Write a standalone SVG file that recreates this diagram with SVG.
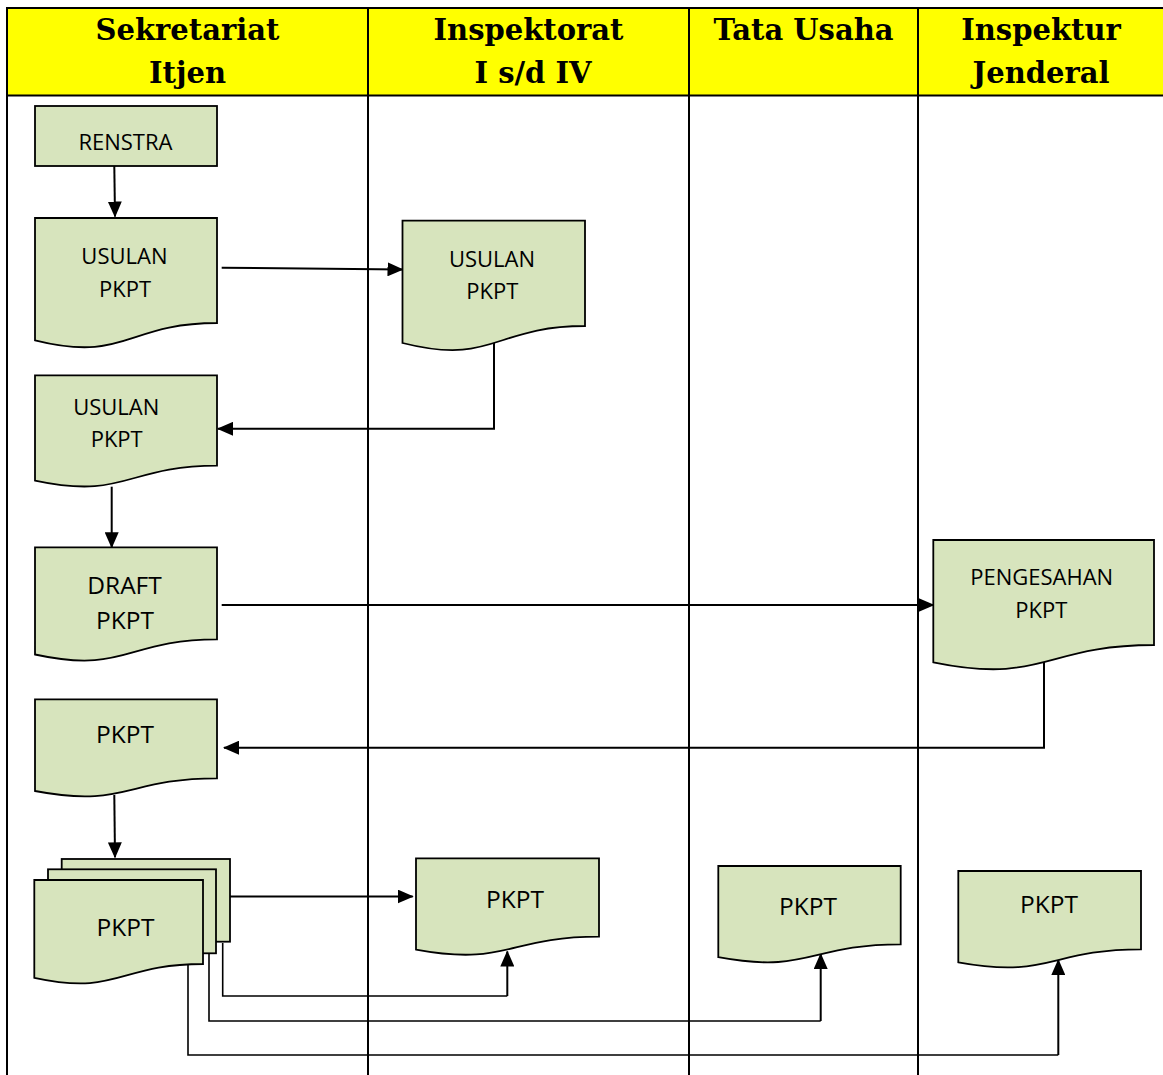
<svg xmlns="http://www.w3.org/2000/svg" width="1163" height="1075" viewBox="0 0 1163 1075">
<style>
.hdr{font-family:"DejaVu Serif","Liberation Serif",serif;font-weight:bold;font-size:29px;fill:#000;text-anchor:middle}
.doc{fill:#d7e4bd;stroke:#000;stroke-width:1.8}
.t{font-family:"Open Sans","Noto Sans",sans-serif;font-size:22px;fill:#000;text-anchor:middle}
.tb{font-family:"Open Sans","Noto Sans",sans-serif;font-size:24.5px;fill:#000;text-anchor:middle}
.grid{stroke:#000;stroke-width:2;fill:none}
.c{stroke:#000;stroke-width:2;fill:none}
.cs{stroke:#000;stroke-width:1.6;fill:none}
</style>
<defs>
<marker id="ah" markerUnits="userSpaceOnUse" markerWidth="16" markerHeight="14" refX="15" refY="7" orient="auto">
<path d="M0,0 L16,7 L0,14 Z" fill="#000"/>
</marker>
</defs>
<rect width="1163" height="1075" fill="#fff"/>
<g id="table">
<rect x="7" y="8" width="1170" height="87.5" fill="#ffff00"/>
<path class="grid" d="M7,1080 V8 H1170 M7,95.5 H1170 M368,8 V1080 M689,8 V1080 M918,8 V1080"/>
<text class="hdr" x="187.5" y="40">Sekretariat</text>
<text class="hdr" x="187.5" y="83">Itjen</text>
<text class="hdr" x="528.5" y="40">Inspektorat</text>
<text class="hdr" x="533" y="83">I s/d IV</text>
<text class="hdr" x="803.5" y="40">Tata Usaha</text>
<text class="hdr" x="1041" y="40">Inspektur</text>
<text class="hdr" x="1041" y="83">Jenderal</text>
</g>
<g id="connectors">
<path class="c" d="M114.3,166 L115,216.5" marker-end="url(#ah)"/>
<path class="c" d="M221.7,267.7 L402.5,269.5" marker-end="url(#ah)"/>
<path class="c" d="M494,343 V428.8 H218" marker-end="url(#ah)"/>
<path class="c" d="M111.7,486.7 V547.3" marker-end="url(#ah)"/>
<path class="c" d="M221.7,605 H933.3" marker-end="url(#ah)"/>
<path class="c" d="M1044,662 V747.7 H224" marker-end="url(#ah)"/>
<path class="c" d="M114.3,795 L115,857.3" marker-end="url(#ah)"/>
<path class="c" d="M230,896.5 H412.7" marker-end="url(#ah)"/>
<path class="cs" d="M222.7,943 V996 H507.3"/>
<path class="c" d="M507.3,996 V951.5" marker-end="url(#ah)"/>
<path class="cs" d="M209,953 V1021 H820.7"/>
<path class="c" d="M820.7,1021 V954" marker-end="url(#ah)"/>
<path class="cs" d="M188,965 V1055 H1058.3"/>
<path class="c" d="M1058.3,1055 V960" marker-end="url(#ah)"/>
</g>
<g id="renstra">
<rect class="doc" x="35" y="106" width="182" height="60"/>
<text class="t" x="125.4" y="150">RENSTRA</text>
</g>
<g id="usulan1">
<path class="doc" d="M35,218 H217 V323 C126,323 126,363 35,340.3 Z"/>
<text class="t" x="124.4" y="264">USULAN</text>
<text class="t" x="125" y="296.7">PKPT</text>
</g>
<g id="usulan2">
<path class="doc" d="M402.5,220.7 H585 V326 C493.7,326 493.7,366 402.5,343 Z"/>
<text class="t" x="492" y="266.7">USULAN</text>
<text class="t" x="492.3" y="299.3">PKPT</text>
</g>
<g id="usulan3">
<path class="doc" d="M35,375.3 H217 V465.7 C126,465.7 126,500 35,480.6 Z"/>
<text class="t" x="116.3" y="415">USULAN</text>
<text class="t" x="116.7" y="446.7">PKPT</text>
</g>
<g id="draft">
<path class="doc" d="M35,547.3 H217 V639.3 C126,639.3 126,674.3 35,654.5 Z"/>
<text class="tb" x="124.5" y="594">DRAFT</text>
<text class="tb" x="125" y="629">PKPT</text>
</g>
<g id="pengesahan">
<path class="doc" d="M933.3,540 H1154 V645 C1043.7,645 1043.7,685 933.3,662.3 Z"/>
<text class="t" x="1041.7" y="585">PENGESAHAN</text>
<text class="t" x="1041.3" y="618.3">PKPT</text>
</g>
<g id="pkpt1">
<path class="doc" d="M35,699.3 H217 V778.3 C126,778.3 126,808.3 35,791 Z"/>
<text class="tb" x="125" y="743">PKPT</text>
</g>
<g id="pkpt-multi">
<rect class="doc" x="61.7" y="859" width="168.3" height="82.7"/>
<rect class="doc" x="48" y="869.3" width="168" height="84"/>
<path class="doc" d="M34.3,880 H203 V964 C118.7,964 118.7,996 34.3,977.8 Z"/>
<text class="tb" x="125.5" y="936">PKPT</text>
</g>
<g id="pkpt-inspektorat">
<path class="doc" d="M416,858.3 H599 V936.7 C507.5,936.7 507.5,966.5 416,949.6 Z"/>
<text class="tb" x="515" y="908">PKPT</text>
</g>
<g id="pkpt-tu">
<path class="doc" d="M718.3,866 H900.7 V944.3 C809.5,944.3 809.5,974 718.3,957.2 Z"/>
<text class="tb" x="808" y="915">PKPT</text>
</g>
<g id="pkpt-irjen">
<path class="doc" d="M958.3,871 H1141 V949.3 C1049.7,949.3 1049.7,979 958.3,962.3 Z"/>
<text class="tb" x="1049" y="912.7">PKPT</text>
</g>
</svg>
